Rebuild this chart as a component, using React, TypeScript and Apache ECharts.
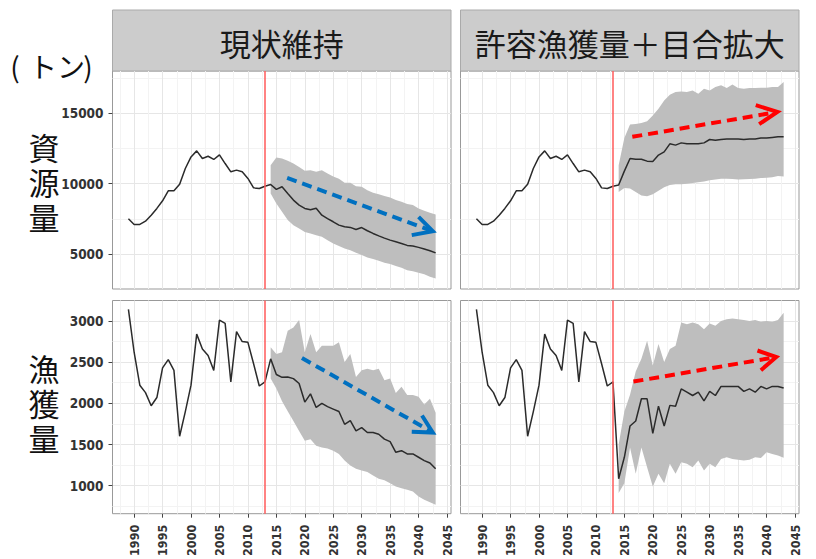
import React, { useEffect, useRef } from "react";
import * as echarts from "echarts";

// ---------- data ----------
const histYears = [1989, 1990, 1991, 1992, 1993, 1994, 1995, 1996, 1997, 1998, 1999, 2000, 2001, 2002, 2003, 2004, 2005, 2006, 2007, 2008, 2009, 2010, 2011, 2012, 2013];
const projYears = [2014, 2015, 2016, 2017, 2018, 2019, 2020, 2021, 2022, 2023, 2024, 2025, 2026, 2027, 2028, 2029, 2030, 2031, 2032, 2033, 2034, 2035, 2036, 2037, 2038, 2039, 2040, 2041, 2042, 2043];

const histBiomass = [7500, 7100, 7100, 7330, 7760, 8240, 8780, 9490, 9490, 9960, 11080, 11900, 12330, 11790, 11950, 11720, 12050, 11430, 10840, 10960, 10840, 10370, 9700, 9660, 9820];
const histCatch = [3140, 2620, 2220, 2130, 1970, 2070, 2430, 2530, 2400, 1600, 1900, 2220, 2840, 2660, 2580, 2400, 3010, 2970, 2260, 2870, 2750, 2740, 2480, 2210, 2260];

// 現状維持 (status quo)
const sqBiomassMed = [9940, 9590, 9780, 9300, 8830, 8470, 8240, 8150, 8250, 7760, 7520, 7290, 7050, 6930, 6890, 6740, 6880, 6650, 6460, 6290, 6130, 5985, 5870, 5750, 5610, 5560, 5470, 5350, 5230, 5080];
const sqBiomassUp = [11310, 11860, 11790, 11620, 11430, 11190, 10910, 10960, 10840, 10960, 10720, 10500, 10350, 10060, 10060, 9820, 9780, 9540, 9350, 9250, 9120, 9020, 8830, 8720, 8550, 8490, 8240, 8080, 7930, 7800];
const sqBiomassLo = [9300, 8590, 8000, 7410, 7050, 6810, 6570, 6460, 6340, 6220, 5980, 5750, 5560, 5390, 5270, 5080, 4920, 4750, 4640, 4520, 4380, 4280, 4140, 4020, 3850, 3780, 3660, 3550, 3380, 3260];
const sqCatchMed = [2540, 2350, 2315, 2320, 2300, 2240, 2015, 2115, 1950, 2000, 1960, 1930, 1900, 1745, 1790, 1665, 1705, 1645, 1645, 1625, 1565, 1535, 1405, 1425, 1385, 1385, 1345, 1305, 1275, 1205];
const sqCatchUp = [2680, 2600, 2620, 2880, 2920, 3010, 2620, 2840, 2620, 2700, 2700, 2700, 2740, 2500, 2600, 2320, 2400, 2420, 2400, 2420, 2280, 2300, 2125, 2200, 2100, 2100, 2080, 1985, 2055, 1885];
const sqCatchLo = [2300, 2180, 2025, 1905, 1785, 1665, 1545, 1565, 1485, 1465, 1450, 1425, 1385, 1305, 1245, 1205, 1185, 1165, 1125, 1085, 1065, 1030, 990, 970, 950, 930, 870, 830, 800, 770];

// 許容漁獲量＋目合拡大 (TAC + mesh enlargement)
const exBiomassMed = [9900, 10890, 11790, 11740, 11740, 11600, 11570, 12030, 12260, 12830, 12740, 12900, 12830, 12830, 12830, 12900, 13140, 13090, 13140, 13180, 13180, 13180, 13140, 13180, 13180, 13250, 13250, 13290, 13330, 13330];
const exBiomassUp = [11300, 13250, 14200, 14250, 14310, 14430, 14850, 15320, 15920, 16320, 16510, 16560, 16510, 16630, 16400, 16750, 16630, 16870, 17000, 16800, 17050, 16800, 16750, 16800, 16800, 16820, 16820, 16870, 16870, 17220];
const exBiomassLo = [9400, 9700, 9650, 9400, 9150, 9100, 9250, 9500, 9750, 9900, 9950, 9950, 10000, 10050, 10100, 10150, 10250, 10300, 10350, 10350, 10330, 10300, 10320, 10330, 10350, 10400, 10420, 10450, 10550, 10500];
const exCatchMed = [1085, 1345, 1725, 1785, 2055, 2055, 1635, 1965, 1725, 1975, 1965, 2175, 2135, 2095, 2135, 2030, 2145, 2095, 2205, 2205, 2205, 2205, 2145, 2175, 2135, 2205, 2175, 2205, 2205, 2185];
const exCatchUp = [1500, 1900, 2105, 2385, 2540, 2760, 2460, 2720, 2500, 2660, 2700, 2980, 2960, 2980, 2960, 2900, 2970, 2940, 3000, 3020, 3030, 3020, 3010, 3000, 3010, 2990, 3000, 2990, 3010, 3100];
const exCatchLo = [910, 1030, 1465, 1145, 1465, 1225, 990, 1145, 1030, 1265, 1145, 1285, 1265, 1225, 1305, 1185, 1265, 1225, 1325, 1345, 1325, 1315, 1305, 1315, 1345, 1335, 1405, 1385, 1365, 1340];

const policyYear = 2013;

// tick values
const xMajorTicks = [1990, 1995, 2000, 2005, 2010, 2015, 2020, 2025, 2030, 2035, 2040, 2045];
const xMinorTicks = [1987.5, 1992.5, 1997.5, 2002.5, 2007.5, 2012.5, 2017.5, 2022.5, 2027.5, 2032.5, 2037.5, 2042.5];
const biomassMajorTicks = [5000, 10000, 15000];
const biomassMinorTicks = [7500, 12500, 17500];
const catchMajorTicks = [1000, 1500, 2000, 2500, 3000];
const catchMinorTicks = [750, 1250, 1750, 2250, 2750, 3250];

// annotation arrows (data coordinates)
const arrowSqBiomassShaft = [[2016.9, 10410], [2042.4, 6640]];
const arrowSqBiomassHead = [[2038.8, 6340], [2042.5, 6620], [2040.0, 7640]];
const arrowSqCatchShaft = [[2019.5, 2550], [2042.4, 1650]];
const arrowSqCatchHead = [[2038.8, 1654], [2042.5, 1645], [2040.6, 1852]];
const arrowExBiomassShaft = [[2016.4, 13330], [2041.8, 15090]];
const arrowExBiomassHead = [[2038.7, 14230], [2041.9, 15100], [2038.1, 15580]];
const arrowExCatchShaft = [[2016.6, 2264], [2041.6, 2560]];
const arrowExCatchHead = [[2039.0, 2402], [2041.7, 2562], [2038.4, 2641]];

const panelTitles = ["現状維持", "許容漁獲量＋目合拡大"];
const rowTitles = [["資", "源", "量"], ["漁", "獲", "量"]];
const unitParts = ["(", "トン", ")"];

// ---------- layout / style ----------
const X_MIN = 1986.2;
const X_MAX = 2045.7;
const B_MIN = 2510;
const B_MAX = 18010;
const C_MIN = 660;
const C_MAX = 3248;

const PANEL_L = [112.5, 460.5];
const PANEL_W = 338.5;
const ROW_T = [71, 300.5];
const ROW_H = [218, 217];

const tickFamily = "'DejaVu Sans Condensed', 'Liberation Sans Narrow', 'DejaVu Sans', sans-serif";
const yTickFont = { fontFamily: tickFamily, fontWeight: "bold" as const, fontSize: 13.5, color: "#333333" };
const xTickFont = { fontFamily: tickFamily, fontWeight: "bold" as const, fontSize: 12.5, color: "#333333" };
const cjk = "'Noto Sans CJK JP', 'Noto Sans CJK SC', sans-serif";

function pairs(xs: number[], ys: number[]) {
  return xs.map((x, i) => [x, ys[i]]);
}

function buildOption() {
  const panels = [
    { row: 0, col: 0, hist: histBiomass, med: sqBiomassMed, up: sqBiomassUp, lo: sqBiomassLo, shaft: arrowSqBiomassShaft, head: arrowSqBiomassHead, color: "#0070c0" },
    { row: 0, col: 1, hist: histBiomass, med: exBiomassMed, up: exBiomassUp, lo: exBiomassLo, shaft: arrowExBiomassShaft, head: arrowExBiomassHead, color: "#ff0000" },
    { row: 1, col: 0, hist: histCatch, med: sqCatchMed, up: sqCatchUp, lo: sqCatchLo, shaft: arrowSqCatchShaft, head: arrowSqCatchHead, color: "#0070c0" },
    { row: 1, col: 1, hist: histCatch, med: exCatchMed, up: exCatchUp, lo: exCatchLo, shaft: arrowExCatchShaft, head: arrowExCatchHead, color: "#ff0000" },
  ];

  const grid: any[] = [];
  const xAxis: any[] = [];
  const yAxis: any[] = [];
  const series: any[] = [];

  panels.forEach((p, i) => {
    grid.push({
      left: PANEL_L[p.col],
      top: ROW_T[p.row],
      width: PANEL_W,
      height: ROW_H[p.row],
      show: true,
      backgroundColor: "#ffffff",
      borderColor: "#999999",
      borderWidth: 1,
      containLabel: false,
    });
    const showX = p.row === 1;
    const showY = p.col === 0;
    const yMajor = p.row === 0 ? biomassMajorTicks : catchMajorTicks;
    xAxis.push({
      gridIndex: i,
      type: "value",
      min: X_MIN,
      max: X_MAX,
      axisLine: { show: false },
      axisTick: { show: showX, customValues: xMajorTicks, length: 4, lineStyle: { color: "#444", width: 1 } },
      axisLabel: {
        show: showX,
        customValues: xMajorTicks,
        rotate: 90,
        margin: 11,
        ...xTickFont,
        formatter: (v: number) => String(v),
      },
      splitLine: { show: true, lineStyle: { color: "#e6e6e6", width: 1 } },
    });
    yAxis.push({
      gridIndex: i,
      type: "value",
      min: p.row === 0 ? B_MIN : C_MIN,
      max: p.row === 0 ? B_MAX : C_MAX,
      axisLine: { show: false },
      axisTick: { show: showY, customValues: yMajor, length: 4, lineStyle: { color: "#444", width: 1 } },
      axisLabel: {
        show: showY,
        customValues: yMajor,
        margin: 9,
        ...yTickFont,
        formatter: (v: number) => String(v),
      },
      splitLine: { show: true, lineStyle: { color: "#e6e6e6", width: 1 } },
    });
  });

  // minor grid-line axes
  panels.forEach((p, i) => {
    const yMinor = p.row === 0 ? biomassMinorTicks : catchMinorTicks;
    xAxis.push({
      gridIndex: i,
      type: "value",
      min: X_MIN,
      max: X_MAX,
      position: "bottom",
      axisLine: { show: false },
      axisTick: { show: false, customValues: xMinorTicks },
      axisLabel: { show: false, customValues: xMinorTicks },
      splitLine: { show: true, lineStyle: { color: "#f3f3f3", width: 1 } },
    });
    yAxis.push({
      gridIndex: i,
      type: "value",
      min: p.row === 0 ? B_MIN : C_MIN,
      max: p.row === 0 ? B_MAX : C_MAX,
      position: "left",
      axisLine: { show: false },
      axisTick: { show: false, customValues: yMinor },
      axisLabel: { show: false, customValues: yMinor },
      splitLine: { show: true, lineStyle: { color: "#f3f3f3", width: 1 } },
    });
  });

  panels.forEach((p, i) => {
    const up = p.up;
    const lo = p.lo;
    // uncertainty band
    series.push({
      type: "custom",
      xAxisIndex: i,
      yAxisIndex: i,
      silent: true,
      z: 1,
      data: [[projYears[0], lo[0]]],
      renderItem: (_params: any, api: any) => {
        const pts: number[][] = [];
        for (let k = 0; k < projYears.length; k++) pts.push(api.coord([projYears[k], up[k]]));
        for (let k = projYears.length - 1; k >= 0; k--) pts.push(api.coord([projYears[k], lo[k]]));
        return { type: "polygon", shape: { points: pts }, style: { fill: "#bebebe", stroke: "none" } };
      },
    });
    // median line (history + projection)
    series.push({
      type: "line",
      xAxisIndex: i,
      yAxisIndex: i,
      z: 3,
      silent: true,
      symbol: "none",
      showSymbol: false,
      data: pairs(histYears.concat(projYears), p.hist.concat(p.med)),
      lineStyle: { color: "#2b2b2b", width: 1.5 },
      markLine: {
        silent: true,
        symbol: ["none", "none"],
        label: { show: false },
        lineStyle: { color: "#ff5a5a", width: 1.5, type: "solid" },
        data: [{ xAxis: policyYear }],
      },
    });
    // arrow shaft (dashed)
    series.push({
      type: "line",
      xAxisIndex: i,
      yAxisIndex: i,
      z: 4,
      silent: true,
      symbol: "none",
      showSymbol: false,
      data: p.shaft,
      lineStyle: { color: p.color, width: 4, type: [10, 6] },
    });
    // arrow head (open chevron)
    series.push({
      type: "line",
      xAxisIndex: i,
      yAxisIndex: i,
      z: 4,
      silent: true,
      symbol: "none",
      showSymbol: false,
      data: p.head,
      lineStyle: { color: p.color, width: 4, type: "solid", join: "miter" },
    });
  });

  const graphic: any[] = [];
  panelTitles.forEach((t, c) => {
    graphic.push({
      type: "rect",
      shape: { x: PANEL_L[c], y: 10, width: PANEL_W, height: 61 },
      style: { fill: "#cccccc", stroke: "#aaaaaa", lineWidth: 1 },
      silent: true,
    });
    graphic.push({
      type: "text",
      x: PANEL_L[c] + PANEL_W / 2,
      y: 42,
      style: {
        text: t,
        fontFamily: cjk,
        fontSize: 31,
        fill: "#1a1a1a",
        align: "center",
        verticalAlign: "middle",
      },
      silent: true,
    });
  });
  // unit label "(トン)"
  const unitX = [15, 57, 88];
  unitParts.forEach((t, k) => {
    graphic.push({
      type: "text",
      x: unitX[k],
      y: 66,
      style: { text: t, fontFamily: cjk, fontSize: 28, fill: "#111", align: "center", verticalAlign: "middle" },
      silent: true,
    });
  });
  const rowCenters = [181, 402];
  rowTitles.forEach((chars, r) => {
    chars.forEach((ch, k) => {
      graphic.push({
        type: "text",
        x: 44,
        y: rowCenters[r] + (k - 1) * 35,
        style: {
          text: ch,
          fontFamily: cjk,
          fontSize: 31,
          fill: "#111",
          align: "center",
          verticalAlign: "middle",
        },
        silent: true,
      });
    });
  });

  return {
    animation: false,
    backgroundColor: "#ffffff",
    grid,
    xAxis,
    yAxis,
    series,
    graphic,
  };
}

export default function App() {
  const ref = useRef<HTMLDivElement>(null);
  useEffect(() => {
    if (!ref.current) return;
    const chart = echarts.init(ref.current, undefined, { renderer: "svg" });
    chart.setOption(buildOption() as any);
    return () => chart.dispose();
  }, []);
  return (
    <div
      ref={ref}
      style={{ position: "fixed", left: 0, top: 0, width: 816, height: 559 }}
    />
  );
}
